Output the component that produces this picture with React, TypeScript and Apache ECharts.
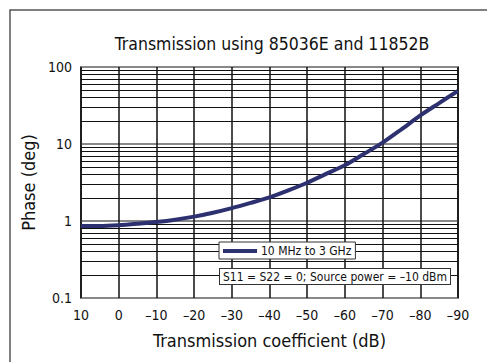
import React, { useEffect, useRef } from "react";
import * as echarts from "echarts";

const FONT = "'DejaVu Sans Condensed', 'Liberation Sans Narrow', sans-serif";

const titleText = "Transmission using 85036E and 11852B";
const xAxisName = "Transmission coefficient (dB)";
const yAxisName = "Phase (deg)";
const seriesName = "10 MHz to 3 GHz";
const noteText = "S11 = S22 = 0; Source power = \u201310 dBm";

const transmissionDb = [10, 5, 0, -5, -10, -15, -20, -25, -30, -35, -40, -45, -50, -55, -60, -65, -70, -75, -80, -85, -90];
const phaseDeg = [0.86, 0.86, 0.88, 0.92, 0.97, 1.04, 1.14, 1.28, 1.47, 1.72, 2.03, 2.5, 3.14, 4.1, 5.3, 7.4, 10.4, 15.5, 23.5, 34, 49];

const minorGridValues = [0.2, 0.3, 0.4, 0.5, 0.6, 0.7, 0.8, 0.9, 2, 3, 4, 5, 6, 7, 8, 9, 20, 30, 40, 50, 60, 70, 80, 90];
const yMin = 0.1;
const yMax = 100;

export default function App() {
  const ref = useRef<HTMLDivElement>(null);
  useEffect(() => {
    if (!ref.current) return;
    const chart = echarts.init(ref.current, undefined, { renderer: "svg" });
    const fmtX = (v: number) => (v < 0 ? "\u2013" + Math.abs(v) : String(v));
    chart.setOption({
      animation: false,
      backgroundColor: "#fff",
      title: {
        text: titleText,
        left: 267,
        textAlign: "center",
        top: 30,
        textStyle: { fontFamily: FONT, fontSize: 17.5, fontWeight: "normal", color: "#111" },
      },
      grid: {
        left: 81,
        right: 29,
        top: 67,
        bottom: 64,
        show: true,
        borderColor: "#111",
        borderWidth: 1.5,
        backgroundColor: "transparent",
      },
      legend: {
        data: [{ name: seriesName, icon: "rect" }],
        left: 219,
        top: 242,
        orient: "horizontal",
        backgroundColor: "#fff",
        borderColor: "#333",
        borderWidth: 1,
        padding: [3, 4, 2, 4],
        itemWidth: 34,
        itemHeight: 4,
        itemGap: 4,
        z: 20,
        textStyle: { fontFamily: FONT, fontSize: 12, color: "#111", padding: [0, 0, 0, -1] },
      },
      xAxis: {
        type: "value",
        min: -90,
        max: 10,
        interval: 10,
        inverse: true,
        name: xAxisName,
        nameLocation: "middle",
        nameGap: 33,
        nameTextStyle: { fontFamily: FONT, fontSize: 18, color: "#111" },
        axisLine: { show: false },
        axisTick: { show: false },
        axisLabel: { formatter: fmtX, fontFamily: FONT, fontSize: 14, color: "#111", margin: 10 },
        splitLine: { show: true, lineStyle: { color: "#111", width: 1.5 } },
      },
      yAxis: {
        type: "log",
        logBase: 10,
        min: yMin,
        max: yMax,
        name: yAxisName,
        nameLocation: "middle",
        nameGap: 34,
        nameTextStyle: { fontFamily: FONT, fontSize: 18, color: "#111" },
        axisLine: { show: false },
        axisTick: { show: false },
        axisLabel: { fontFamily: FONT, fontSize: 14, color: "#111", margin: 9, formatter: (v: number) => String(v) },
        splitLine: { show: true, lineStyle: { color: "#888", width: 2 } },
      },
      series: [
        {
          name: seriesName,
          type: "line",
          data: transmissionDb.map((x, i) => [x, phaseDeg[i]]),
          smooth: 0.3,
          showSymbol: false,
          symbol: "none",
          lineStyle: { color: "#2e3170", width: 4 },
          itemStyle: { color: "#2e3170" },
          z: 5,
          markLine: {
            silent: true,
            symbol: "none",
            label: { show: false },
            lineStyle: { color: "#111", width: 1, type: "solid" },
            data: minorGridValues.map((v) => ({ yAxis: v })),
            z: 1,
          },
        },
      ],
      graphic: [
        {
          type: "rect",
          shape: { x: 10, y: 10, width: 500, height: 380 },
          style: { fill: "none", stroke: "#555", lineWidth: 1.5 },
          silent: true,
          z: 0,
        },
        {
          type: "text",
          left: 219,
          top: 268,
          z: 10,
          style: {
            text: noteText,
            font: "12px " + FONT,
            fill: "#111",
            backgroundColor: "#fff",
            borderColor: "#333",
            borderWidth: 1,
            padding: [2, 3, 1, 3],
          },
        },
      ],
    });
    return () => chart.dispose();
  }, []);
  return (
    <div
      ref={ref}
      style={{ position: "fixed", left: 0, top: 0, width: 487, height: 362 }}
    />
  );
}
